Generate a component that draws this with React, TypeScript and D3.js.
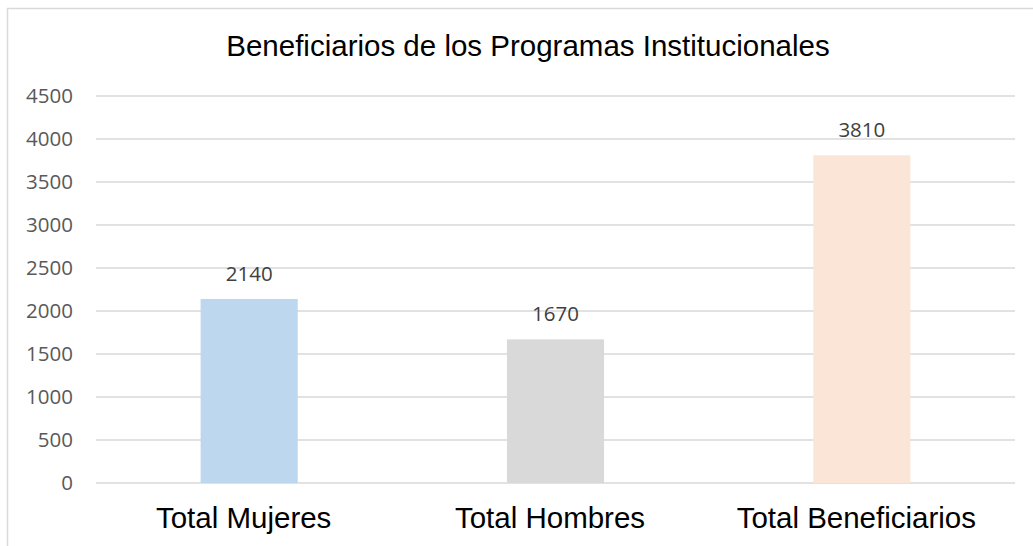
import { useEffect, useRef } from "react";
import * as d3 from "d3";

const categories = ["Total Mujeres", "Total Hombres", "Total Beneficiarios"];
const values = [2140, 1670, 3810];
const barColors = ["#bdd7ee", "#d9d9d9", "#fbe5d6"];
const yTicks = [0, 500, 1000, 1500, 2000, 2500, 3000, 3500, 4000, 4500];
const title = "Beneficiarios de los Programas Institucionales";

const width = 1033;
const height = 546;

export default function App() {
  const svgRef = useRef<SVGSVGElement | null>(null);

  useEffect(() => {
    if (!svgRef.current) return;
    const svg = d3.select(svgRef.current);
    svg.selectAll("*").remove();

    const left = 96;
    const right = 1015;
    const top = 96;
    const bottom = 483;

    // chart frame (right/bottom edges run off the picture)
    svg.append("rect")
      .attr("x", 7.5).attr("y", 8.5)
      .attr("width", 1040).attr("height", 560)
      .attr("fill", "#fff")
      .attr("stroke", "#d9d9d9")
      .attr("stroke-width", 1.5);

    const x = d3.scaleBand().domain(categories).range([left, right]).paddingInner(0.683).paddingOuter(0.3415);
    const y = d3.scaleLinear().domain([0, 4500]).range([bottom, top]);

    // gridlines
    svg.append("g")
      .selectAll("line")
      .data(yTicks)
      .enter()
      .append("line")
      .attr("x1", left).attr("x2", right)
      .attr("y1", d => y(d)).attr("y2", d => y(d))
      .attr("stroke", "#d9d9d9")
      .attr("stroke-width", 1.5);

    // y labels
    svg.append("g")
      .selectAll("text")
      .data(yTicks)
      .enter()
      .append("text")
      .attr("x", 73)
      .attr("y", d => y(d))
      .attr("dy", "0.36em")
      .attr("text-anchor", "end")
      .attr("font-family", "'Open Sans', sans-serif")
      .attr("font-size", 20.5)
      .attr("fill", "#595959")
      .text(d => d);

    // bars
    svg.append("g")
      .selectAll("rect")
      .data(values)
      .enter()
      .append("rect")
      .attr("x", (_d, i) => x(categories[i])!)
      .attr("width", x.bandwidth())
      .attr("y", d => y(d))
      .attr("height", d => bottom - y(d))
      .attr("fill", (_d, i) => barColors[i]);

    // value labels
    svg.append("g")
      .selectAll("text")
      .data(values)
      .enter()
      .append("text")
      .attr("x", (_d, i) => x(categories[i])! + x.bandwidth() / 2)
      .attr("y", d => y(d) - 18)
      .attr("text-anchor", "middle")
      .attr("font-family", "'Open Sans', sans-serif")
      .attr("font-size", 20.5)
      .attr("fill", "#404040")
      .text(d => d);

    // category labels (sit a little left of the bar centres, as in the original)
    svg.append("g")
      .selectAll("text")
      .data(categories)
      .enter()
      .append("text")
      .attr("x", d => x(d)! + x.bandwidth() / 2 - 5.5)
      .attr("y", 528)
      .attr("text-anchor", "middle")
      .attr("font-family", "'Liberation Sans', Arial, sans-serif")
      .attr("font-size", 29.5)
      .attr("fill", "#000")
      .text(d => d);

    svg.append("text")
      .attr("x", 528)
      .attr("y", 56)
      .attr("text-anchor", "middle")
      .attr("font-family", "'Liberation Sans', Arial, sans-serif")
      .attr("font-size", 29.5)
      .attr("fill", "#000")
      .text(title);
  }, []);

  return (
    <svg
      ref={svgRef}
      width={width}
      height={height}
      style={{ position: "absolute", left: 0, top: 0, display: "block" }}
    />
  );
}
